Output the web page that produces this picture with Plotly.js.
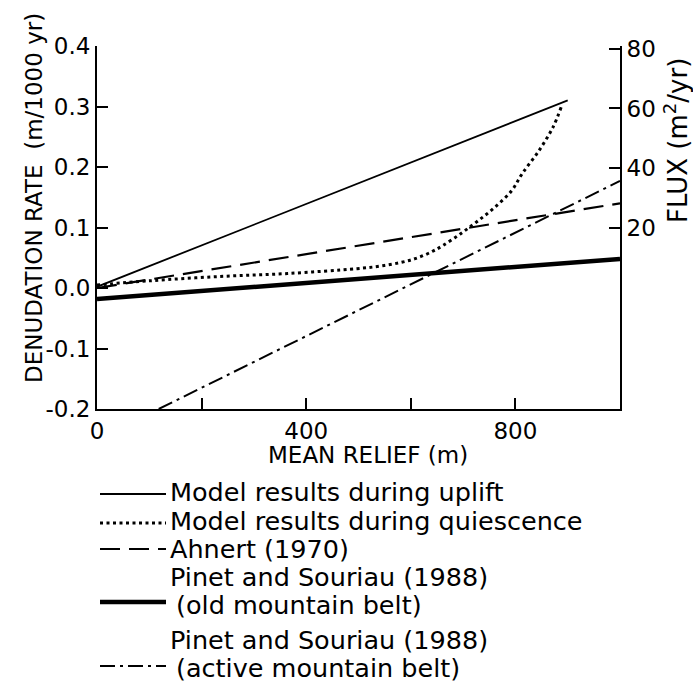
<!DOCTYPE html>
<html><head><meta charset="utf-8">
<script src="https://cdn.plot.ly/plotly-3.0.1.min.js"></script>
<style>html,body{margin:0;padding:0;background:#fff;}#chart{width:693px;height:687px;}</style>
</head><body><div id="chart"></div>
<script>
// ---- data ----
const upliftX = [0, 900];
const upliftY = [0.002, 0.31];
const quiesX = [0, 102, 234, 365, 497, 540, 580, 610, 640, 661, 694, 727, 760, 793, 813, 845, 872, 888];
const quiesY = [0.005, 0.012, 0.019, 0.024, 0.032, 0.036, 0.042, 0.049, 0.060, 0.070, 0.089, 0.110, 0.133, 0.161, 0.189, 0.227, 0.266, 0.300];
const ahnertX = [0, 1000];
const ahnertY = [0.0, 0.14];
const oldBeltX = [0, 1000];
const oldBeltY = [-0.018, 0.048];
const activeX = [118, 1000];
const activeY = [-0.2, 0.177];
const seriesNames = [
  ["Model results during uplift"],
  ["Model results during quiescence"],
  ["Ahnert (1970)"],
  ["Pinet and Souriau (1988)", "(old mountain belt)"],
  ["Pinet and Souriau (1988)", "(active mountain belt)"]
];
const xTickVals = [0, 400, 800];
const xTickText = ["0", "400", "800"];
const yTickVals = [-0.2, -0.1, 0.0, 0.1, 0.2, 0.3, 0.4];
const yTickText = ["-0.2", "-0.1", "0.0", "0.1", "0.2", "0.3", "0.4"];
const fluxTickVals = [20, 40, 60, 80];
const fluxTickText = ["20", "40", "60", "80"];

// ---- styles ----
const FONT = "DejaVu Sans";
const styles = [
  {width: 1.8, dash: "solid", shape: "linear"},
  {width: 3, dash: "3px,3.5px", shape: "spline"},
  {width: 2.2, dash: "20px,9px", shape: "linear"},
  {width: 4.5, dash: "solid", shape: "linear"},
  {width: 2, dash: "15px,5px,3px,5px", shape: "linear"}
];
const xs = [upliftX, quiesX, ahnertX, oldBeltX, activeX];
const ys = [upliftY, quiesY, ahnertY, oldBeltY, activeY];

const W = 693, H = 687, M = {l: 97, r: 73, t: 46, b: 278};
const PW = W - M.l - M.r, PH = H - M.t - M.b;
const px2x = px => (px - M.l) / PW;
const px2y = py => (H - M.b - py) / PH;

const traces = xs.map((x, i) => ({
  x: x, y: ys[i], type: "scatter", mode: "lines",
  line: {color: "#000", width: styles[i].width, dash: styles[i].dash, shape: styles[i].shape, smoothing: 1},
  showlegend: false, hoverinfo: "skip"
}));
// invisible trace to activate the right axis
traces.push({x: [0], y: [0], yaxis: "y2", mode: "markers", marker: {opacity: 0}, showlegend: false, hoverinfo: "skip"});

// custom legend
const sampleY = [494, 523, 549, 602, 666];
const textY = [[492], [521], [549], [577, 605], [640, 668]];
const textX = [[168], [168], [168], [168, 174], [168, 174]];
const shapes = sampleY.map((py, i) => ({
  type: "line", xref: "paper", yref: "paper",
  x0: px2x(100), x1: px2x(166), y0: px2y(py), y1: px2y(py),
  line: {color: "#000", width: styles[i].width, dash: styles[i].dash}
}));
const annotations = [];
seriesNames.forEach((lines, i) => {
  lines.forEach((t, j) => {
    annotations.push({
      text: t, xref: "paper", yref: "paper", x: px2x(textX[i][j]), y: px2y(textY[i][j]),
      xanchor: "left", yanchor: "middle", showarrow: false,
      font: {family: FONT, size: 25.5, color: "#000"}
    });
  });
});
annotations.push({
  text: "DENUDATION RATE  (m/1000 yr)", xref: "paper", yref: "paper",
  x: px2x(34), y: px2y(198), textangle: -90, showarrow: false,
  xanchor: "center", yanchor: "middle", font: {family: FONT, size: 23, color: "#000"}
});
annotations.push({
  text: "FLUX (m<sup>2</sup>/yr)", xref: "paper", yref: "paper",
  x: px2x(676), y: px2y(141), textangle: -90, showarrow: false,
  xanchor: "center", yanchor: "middle", font: {family: FONT, size: 26, color: "#000"}
});
annotations.push({
  text: "MEAN RELIEF (m)", xref: "paper", yref: "paper",
  x: px2x(368), y: px2y(455), showarrow: false,
  xanchor: "center", yanchor: "middle", font: {family: FONT, size: 23, color: "#000"}
});

const axCommon = {
  showline: true, linecolor: "#000", linewidth: 2, showgrid: false, zeroline: false,
  ticks: "inside", ticklen: 11, tickwidth: 2, tickcolor: "#000",
  tickfont: {family: FONT, size: 23, color: "#000"}, fixedrange: true
};

const layout = {
  width: W, height: H, margin: M,
  paper_bgcolor: "#fff", plot_bgcolor: "#fff",
  showlegend: false,
  xaxis: Object.assign({}, axCommon, {
    range: [0, 1000], tickmode: "array", tickvals: xTickVals, ticktext: xTickText,
    minor: {ticks: "inside", ticklen: 11, tickwidth: 2, tickcolor: "#000", dtick: 200, tick0: 0, showgrid: false}
  }),
  yaxis: Object.assign({}, axCommon, {range: [-0.2, 0.4], tickmode: "array", tickvals: yTickVals, ticktext: yTickText}),
  yaxis2: Object.assign({}, axCommon, {overlaying: "y", side: "right", range: [-41, 81], tickmode: "array", tickvals: fluxTickVals, ticktext: fluxTickText}),
  shapes: shapes,
  annotations: annotations
};

Plotly.newPlot("chart", traces, layout, {displayModeBar: false, staticPlot: true});
</script>
</body></html>
